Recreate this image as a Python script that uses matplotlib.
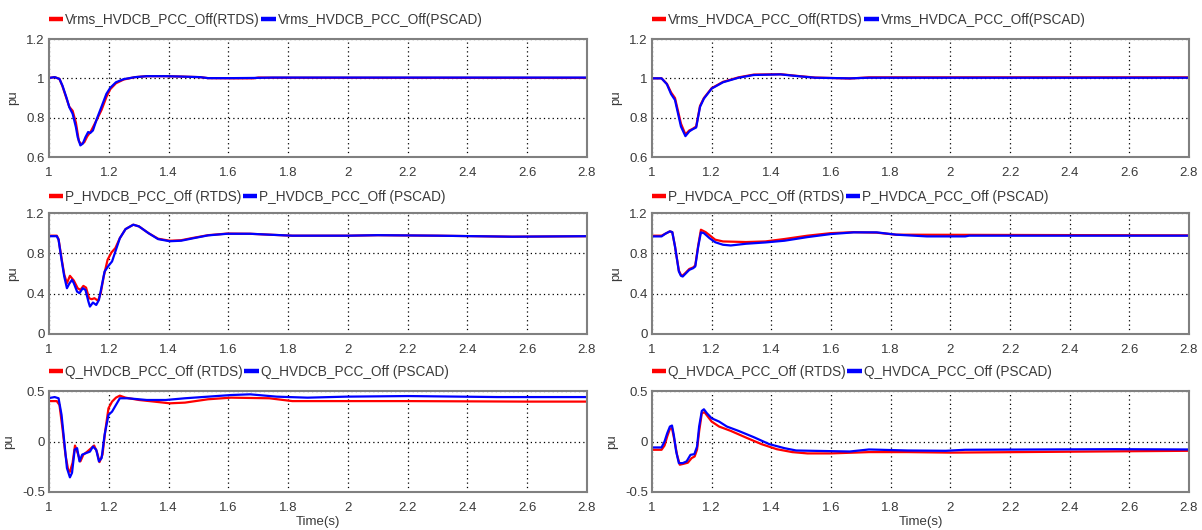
import matplotlib
matplotlib.use('Agg')
import matplotlib.pyplot as plt
from matplotlib.lines import Line2D

# ---------------- data ----------------
# Top-left: Vrms HVDCB
vb_t_pscad = [1.0, 1.019, 1.035, 1.045, 1.058, 1.068, 1.079, 1.09, 1.096, 1.105, 1.113, 1.122, 1.131, 1.138,
              1.147, 1.16, 1.176, 1.192, 1.205, 1.224, 1.25, 1.288, 1.327, 1.391, 1.442, 1.506, 1.532, 1.609,
              1.685, 1.75, 2.8]
vb_v_pscad = [1.002, 1.006, 0.997, 0.963, 0.904, 0.853, 0.82, 0.752, 0.701, 0.659, 0.668, 0.701, 0.727, 0.722,
              0.735, 0.794, 0.857, 0.921, 0.952, 0.98, 0.996, 1.006, 1.011, 1.011, 1.009, 1.006, 1.001, 1.001,
              1.002, 1.004, 1.004]
vb_t_rtds = [1.0, 1.019, 1.035, 1.045, 1.058, 1.068, 1.079, 1.09, 1.1, 1.108, 1.118, 1.128, 1.14, 1.15, 1.16,
             1.176, 1.192, 1.205, 1.224, 1.25, 1.288, 1.327, 1.391, 1.442, 1.506, 1.532, 1.609, 1.685, 1.7,
             1.75, 2.8]
vb_v_rtds = [1.002, 1.006, 0.997, 0.96, 0.9, 0.855, 0.835, 0.775, 0.68, 0.665, 0.675, 0.705, 0.73, 0.76, 0.79,
             0.84, 0.905, 0.945, 0.975, 0.994, 1.006, 1.011, 1.011, 1.009, 1.006, 1.001, 1.0, 1.0, 1.004,
             1.003, 1.002]

# Top-right: Vrms HVDCA
va_t_pscad = [1.0, 1.032, 1.05, 1.064, 1.077, 1.097, 1.112, 1.125, 1.135, 1.148, 1.161, 1.174, 1.2, 1.238,
              1.29, 1.341, 1.431, 1.496, 1.547, 1.663, 1.727, 2.8]
va_v_pscad = [1.0, 1.0, 0.97, 0.92, 0.89, 0.755, 0.706, 0.73, 0.74, 0.75, 0.855, 0.897, 0.948, 0.98,
              1.003, 1.017, 1.02, 1.01, 1.003, 1.0, 1.003, 1.003]
va_t_rtds = [1.0, 1.032, 1.05, 1.064, 1.077, 1.097, 1.112, 1.125, 1.135, 1.148, 1.161, 1.174, 1.2, 1.238,
             1.29, 1.341, 1.431, 1.496, 1.547, 1.663, 1.727, 2.8]
va_v_rtds = [1.0, 1.0, 0.972, 0.928, 0.9, 0.77, 0.715, 0.735, 0.742, 0.755, 0.86, 0.9, 0.95, 0.982,
             1.005, 1.019, 1.021, 1.011, 1.004, 0.999, 1.005, 1.005]

# Middle-left: P HVDCB
pb_t_pscad = [1.0, 1.026, 1.032, 1.042, 1.051, 1.06, 1.068, 1.077, 1.083, 1.094, 1.102, 1.113, 1.122, 1.132,
              1.137, 1.147, 1.158, 1.167, 1.176, 1.186, 1.199, 1.211, 1.224, 1.237, 1.256, 1.282, 1.301, 1.333,
              1.365, 1.404, 1.442, 1.48, 1.532, 1.596, 1.673, 1.737, 1.814, 2.0, 2.1, 2.3, 2.55, 2.8]
pb_v_pscad = [0.97, 0.97, 0.935, 0.736, 0.57, 0.454, 0.50, 0.537, 0.504, 0.42, 0.405, 0.454, 0.437, 0.32,
              0.272, 0.312, 0.288, 0.338, 0.47, 0.62, 0.676, 0.72, 0.835, 0.95, 1.04, 1.084, 1.067, 1.0,
              0.941, 0.92, 0.925, 0.948, 0.978, 0.994, 0.994, 0.985, 0.975, 0.975, 0.98, 0.975, 0.965, 0.97]
pb_t_rtds = [1.0, 1.026, 1.032, 1.042, 1.051, 1.06, 1.07, 1.083, 1.096, 1.105, 1.115, 1.124, 1.134, 1.143,
             1.152, 1.164, 1.173, 1.183, 1.196, 1.209, 1.222, 1.237, 1.256, 1.282, 1.301, 1.333, 1.365, 1.404,
             1.442, 1.48, 1.532, 1.596, 1.673, 1.737, 1.814, 2.0, 2.1, 2.3, 2.55, 2.8]
pb_v_rtds = [0.975, 0.975, 0.94, 0.75, 0.59, 0.504, 0.577, 0.53, 0.454, 0.437, 0.477, 0.46, 0.355, 0.345,
             0.355, 0.33, 0.404, 0.57, 0.736, 0.809, 0.852, 0.95, 1.04, 1.084, 1.067, 1.0, 0.945, 0.925,
             0.93, 0.952, 0.98, 0.996, 0.994, 0.985, 0.975, 0.975, 0.98, 0.975, 0.965, 0.97]

# Middle-right: P HVDCA
pa_t_pscad = [1.0, 1.032, 1.045, 1.06, 1.068, 1.077, 1.084, 1.09, 1.097, 1.103, 1.112, 1.125, 1.138, 1.145,
              1.155, 1.164, 1.174, 1.193, 1.212, 1.238, 1.264, 1.315, 1.38, 1.444, 1.521, 1.599, 1.676, 1.753,
              1.818, 1.921, 2.05, 2.063, 2.8]
pa_v_pscad = [0.968, 0.968, 0.995, 1.018, 1.01, 0.87, 0.736, 0.62, 0.577, 0.57, 0.597, 0.636, 0.653, 0.67,
              0.869, 1.008, 1.0, 0.95, 0.91, 0.885, 0.878, 0.895, 0.908, 0.925, 0.961, 0.991, 1.008, 1.008,
              0.985, 0.968, 0.968, 0.975, 0.975]
pa_t_rtds = [1.0, 1.032, 1.045, 1.06, 1.068, 1.077, 1.084, 1.09, 1.097, 1.103, 1.112, 1.125, 1.138, 1.145,
             1.155, 1.164, 1.18, 1.212, 1.238, 1.315, 1.38, 1.444, 1.521, 1.599, 1.676, 1.753, 1.818, 2.8]
pa_v_rtds = [0.975, 0.975, 0.995, 1.018, 1.01, 0.87, 0.74, 0.63, 0.585, 0.58, 0.605, 0.645, 0.66, 0.68,
             0.88, 1.034, 1.01, 0.935, 0.918, 0.912, 0.918, 0.942, 0.975, 1.0, 1.01, 1.005, 0.985, 0.978]

# Bottom-left: Q HVDCB
qb_t_pscad = [1.0, 1.019, 1.032, 1.042, 1.051, 1.06, 1.07, 1.077, 1.086, 1.094, 1.102, 1.111, 1.124, 1.137,
              1.147, 1.158, 1.167, 1.176, 1.186, 1.199, 1.211, 1.224, 1.237, 1.263, 1.327, 1.391, 1.455, 1.532,
              1.609, 1.673, 1.762, 1.865, 1.993, 2.2, 2.5, 2.8]
qb_v_pscad = [0.43, 0.44, 0.428, 0.263, 0.0, -0.263, -0.355, -0.31, -0.08, -0.066, -0.197, -0.13, -0.115,
              -0.10, -0.05, -0.082, -0.197, -0.164, 0.066, 0.263, 0.296, 0.362, 0.428, 0.428, 0.411, 0.411,
              0.428, 0.444, 0.46, 0.467, 0.444, 0.434, 0.444, 0.45, 0.44, 0.44]
qb_t_rtds = [1.0, 1.026, 1.035, 1.045, 1.055, 1.064, 1.07, 1.079, 1.087, 1.096, 1.105, 1.115, 1.128, 1.141,
             1.151, 1.16, 1.169, 1.179, 1.188, 1.199, 1.211, 1.224, 1.237, 1.256, 1.301, 1.352, 1.404, 1.455,
             1.532, 1.609, 1.737, 1.814, 2.2, 2.6, 2.8]
qb_v_rtds = [0.40, 0.40, 0.362, 0.132, -0.13, -0.28, -0.30, -0.21, -0.04, -0.115, -0.197, -0.13, -0.10,
             -0.066, -0.04, -0.10, -0.204, -0.13, 0.1, 0.329, 0.395, 0.434, 0.454, 0.434, 0.411, 0.395,
             0.378, 0.385, 0.418, 0.434, 0.428, 0.40, 0.40, 0.395, 0.395]

# Bottom-right: Q HVDCA
qa_t_pscad = [1.0, 1.032, 1.042, 1.051, 1.06, 1.067, 1.073, 1.081, 1.09, 1.103, 1.116, 1.129, 1.142, 1.151,
              1.158, 1.167, 1.174, 1.184, 1.2, 1.225, 1.251, 1.29, 1.341, 1.393, 1.444, 1.483, 1.534, 1.663,
              1.727, 1.856, 1.985, 2.049, 2.552, 2.8]
qa_v_pscad = [-0.059, -0.059, 0.0, 0.082, 0.148, 0.158, 0.066, -0.099, -0.214, -0.214, -0.197, -0.132,
              -0.125, -0.05, 0.148, 0.303, 0.319, 0.28, 0.23, 0.197, 0.148, 0.105, 0.043, -0.026, -0.066,
              -0.089, -0.092, -0.099, -0.079, -0.089, -0.092, -0.082, -0.076, -0.079]
qa_t_rtds = [1.0, 1.032, 1.042, 1.051, 1.06, 1.067, 1.074, 1.084, 1.093, 1.107, 1.12, 1.133, 1.143, 1.151,
             1.158, 1.167, 1.176, 1.187, 1.2, 1.225, 1.264, 1.315, 1.367, 1.418, 1.47, 1.521, 1.599, 1.727,
             1.856, 2.0, 2.8]
qa_v_rtds = [-0.082, -0.082, -0.04, 0.05, 0.125, 0.132, 0.03, -0.132, -0.23, -0.22, -0.21, -0.164, -0.148,
             -0.08, 0.1, 0.28, 0.29, 0.247, 0.197, 0.148, 0.105, 0.039, -0.026, -0.076, -0.105, -0.118,
             -0.118, -0.105, -0.105, -0.11, -0.092]

labels = [
    ["Vrms_HVDCB_PCC_Off(RTDS)", "Vrms_HVDCB_PCC_Off(PSCAD)"],
    ["Vrms_HVDCA_PCC_Off(RTDS)", "Vrms_HVDCA_PCC_Off(PSCAD)"],
    ["P_HVDCB_PCC_Off (RTDS)", "P_HVDCB_PCC_Off (PSCAD)"],
    ["P_HVDCA_PCC_Off (RTDS)", "P_HVDCA_PCC_Off (PSCAD)"],
    ["Q_HVDCB_PCC_Off (RTDS)", "Q_HVDCB_PCC_Off (PSCAD)"],
    ["Q_HVDCA_PCC_Off (RTDS)", "Q_HVDCA_PCC_Off (PSCAD)"],
]
series = [
    (vb_t_rtds, vb_v_rtds, vb_t_pscad, vb_v_pscad),
    (va_t_rtds, va_v_rtds, va_t_pscad, va_v_pscad),
    (pb_t_rtds, pb_v_rtds, pb_t_pscad, pb_v_pscad),
    (pa_t_rtds, pa_v_rtds, pa_t_pscad, pa_v_pscad),
    (qb_t_rtds, qb_v_rtds, qb_t_pscad, qb_v_pscad),
    (qa_t_rtds, qa_v_rtds, qa_t_pscad, qa_v_pscad),
]
yticks_rows = [[0.6, 0.8, 1.0, 1.2], [0, 0.4, 0.8, 1.2], [-0.5, 0, 0.5]]
ylims_rows = [(0.6, 1.2), (0, 1.2), (-0.5, 0.5)]
xticks = [1, 1.2, 1.4, 1.6, 1.8, 2, 2.2, 2.4, 2.6, 2.8]

# ---------------- layout ----------------
W, H = 1202, 530
plt.rcParams['font.family'] = ['Liberation Sans', 'DejaVu Sans']
fig = plt.figure(figsize=(W / 100, H / 100), dpi=100)
fig.patch.set_facecolor('white')

cols_px = [(49, 587), (652, 1189)]
rows_px = [(39, 157), (213, 334), (391, 492)]
legend_y_px = [20, 197, 372]

def fmt(v):
    return '%g' % v

tick_color = '#3a3a3a'
for r in range(3):
    for c in range(2):
        i = r * 2 + c
        x0, x1 = cols_px[c]
        y0, y1 = rows_px[r]
        ax = fig.add_axes([x0 / W, 1 - y1 / H, (x1 - x0) / W, (y1 - y0) / H])
        tr, vr, tp, vp = series[i]
        ax.plot(tr, vr, color='#ff0000', lw=1.6, solid_joinstyle='round')
        ax.plot(tp, vp, color='#0000ff', lw=1.6, solid_joinstyle='round')
        ax.set_xlim(1, 2.8)
        ax.set_ylim(*ylims_rows[r])
        ax.set_xticks(xticks)
        ax.set_xticklabels([fmt(x) for x in xticks])
        ax.set_yticks(yticks_rows[r])
        ax.set_yticklabels([fmt(y) for y in yticks_rows[r]])
        ax.tick_params(axis='both', length=0, labelsize=9.5, colors=tick_color)
        ax.tick_params(axis='x', pad=7)
        ax.tick_params(axis='y', pad=3)
        ax.grid(True, color='black', linestyle=(0, (1, 2.5)), linewidth=0.9)
        for sp in ax.spines.values():
            sp.set_color('#808080')
            sp.set_linewidth(1.5)
        ax.set_ylabel('pu', fontsize=9.5, color=tick_color, labelpad=5)
        if r == 2:
            ax.set_xlabel('Time(s)', fontsize=9.5, color=tick_color, labelpad=2)
        handles = [Line2D([], [], color='#ff0000', lw=3.2, solid_capstyle='butt'),
                   Line2D([], [], color='#0000ff', lw=3.2, solid_capstyle='butt')]
        ax.legend(handles, labels[i], ncol=2, loc='center left',
                  bbox_to_anchor=(x0 / W, 1 - legend_y_px[r] / H), bbox_transform=fig.transFigure,
                  frameon=False, borderpad=0, borderaxespad=0, handlelength=1.05,
                  handletextpad=0.15, columnspacing=0.1, fontsize=9.8,
                  labelcolor=tick_color)

fig.savefig('out.png', dpi=100, facecolor='white')
